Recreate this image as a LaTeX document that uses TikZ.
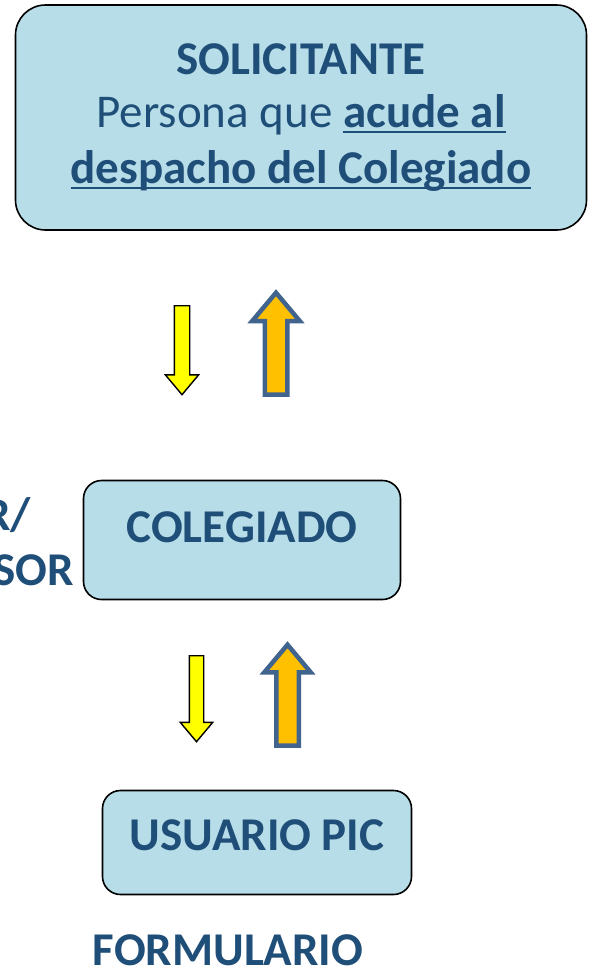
\documentclass[tikz,border=0pt]{standalone}
\usepackage{fontspec}
\setmainfont{Carlito}
\usepackage{tikz}
\usetikzlibrary{shapes,arrows,arrows.meta,positioning,calc}
\definecolor{fcInk}{HTML}{1F4E79}
\definecolor{fcBox}{HTML}{B7DDE8}
\definecolor{fcYellow}{HTML}{FFFF00}
\definecolor{fcOrange}{HTML}{FFC000}
\definecolor{fcSlate}{HTML}{41648F}
\newcommand{\subr}[1]{\setbox0\hbox{#1}\rlap{\rule[-6pt]{\wd0}{2.5pt}}\box0}
\tikzset{
  caja/.style={draw=black, line width=1.6pt, fill=fcBox, text=fcInk, font=\fontsize{47}{56}\selectfont\bfseries, align=center, inner sep=0pt, outer sep=0pt},
  lbl/.style={text=fcInk, font=\fontsize{47}{56}\selectfont\bfseries, inner sep=0pt},
  bajada/.style={single arrow, draw=black, line width=1.4pt, fill=fcYellow, rotate=-90, anchor=tail, inner xsep=0pt, outer sep=0pt, single arrow tip angle=80},
  subida/.style={single arrow, draw=fcSlate, line width=4.5pt, fill=fcOrange, rotate=90, anchor=tail, inner xsep=0pt, outer sep=0pt, single arrow tip angle=80},
}
\begin{document}
\begin{tikzpicture}[x=1pt,y=-1pt]
  \useasboundingbox (0,0) rectangle (590,980);
  \node[caja, rounded corners=30pt, minimum width=571pt, minimum height=225pt] (solicitante) at (301,117.5)
    {SOLICITANTE\\[-3pt]{\mdseries Persona que} \subr{acude al}\\\subr{despacho del Colegiado}};
  % flechas superiores
  \node[bajada, minimum height=89pt, inner ysep=7pt, single arrow head extend=9pt] (baja1) at (182,305.7) {};
  \node[subida, minimum height=102pt, inner ysep=9pt, single arrow head extend=12.5pt] (sube1) at (276,394.7) {};
  \node[caja, rounded corners=18pt, minimum width=317pt, minimum height=119pt] (colegiado) at (242,540) {};
  \node[lbl] (colegiadoT) at (242,527) {COLEGIADO};
  \node[lbl, anchor=east] (tutor) at (31,515) {R/};
  \node[lbl, anchor=east] (asesor) at (74,570) {SOR};
  % flechas inferiores
  \node[bajada, minimum height=86pt, inner ysep=6.5pt, single arrow head extend=9pt] (baja2) at (196.5,655.7) {};
  \node[subida, minimum height=101pt, inner ysep=9pt, single arrow head extend=12pt] (sube2) at (287.5,745.7) {};
  \node[caja, rounded corners=18pt, minimum width=309pt, minimum height=104pt] (usuario) at (257,842.5) {};
  \node[lbl] (usuarioT) at (257,835) {USUARIO PIC};
  \node[lbl] (formulario) at (228,950) {FORMULARIO};
\end{tikzpicture}
\end{document}
